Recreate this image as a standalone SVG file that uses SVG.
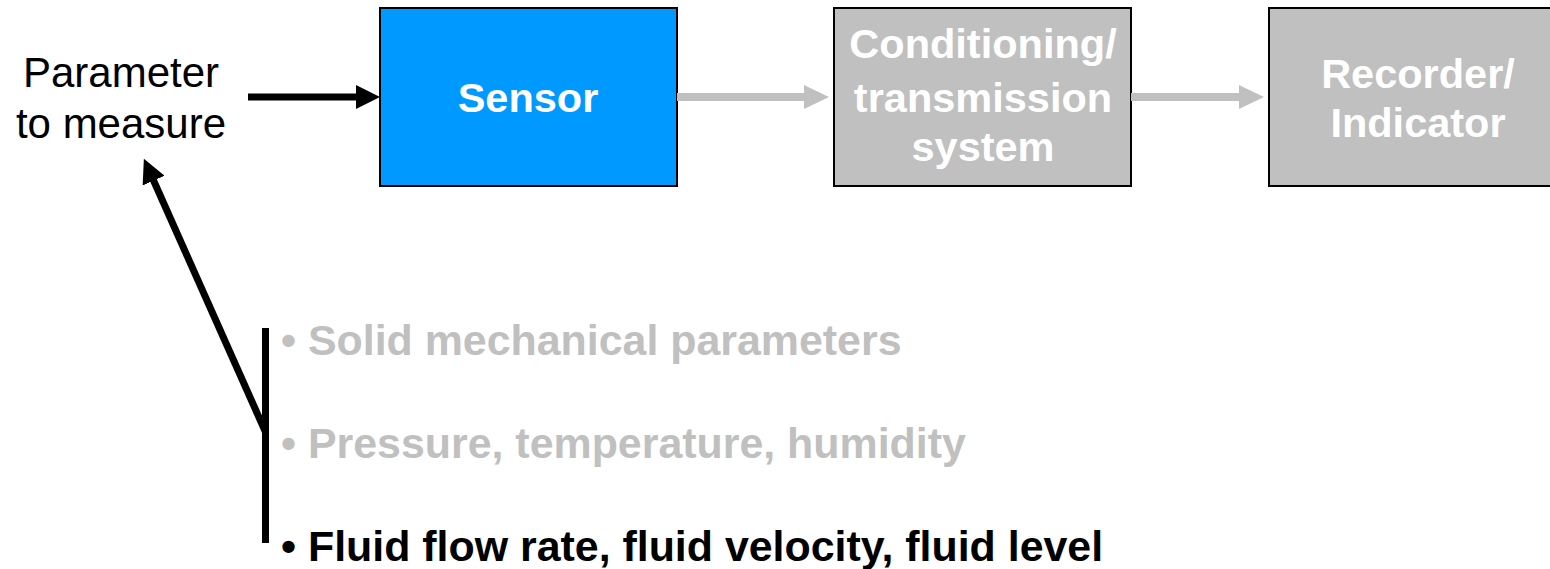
<svg xmlns="http://www.w3.org/2000/svg" width="1550" height="569" viewBox="0 0 1550 569">
  <style>
    .lbl { font-family: "Liberation Sans", Arial, sans-serif; font-size: 42px; }
    .box { stroke: #000; stroke-width: 2; }
    .boxtxt { font-family: "Liberation Sans", Arial, sans-serif; font-size: 41.5px; font-weight: bold; fill: #fff; text-anchor: middle; }
    .item { font-family: "Liberation Sans", Arial, sans-serif; font-size: 42.9px; font-weight: bold; }
    .dim { fill: #c0c0c0; }
    .dark { fill: #000; }
  </style>
  <defs>
    <marker id="headBlack" markerUnits="userSpaceOnUse" markerWidth="24" markerHeight="24" refX="4" refY="12" orient="auto">
      <path d="M0,0 L24,12 L0,24 z" fill="#000"/>
    </marker>
    <marker id="headGray" markerUnits="userSpaceOnUse" markerWidth="26" markerHeight="26" refX="5" refY="13" orient="auto">
      <path d="M0,1 L25,13 L0,25 z" fill="#c0c0c0"/>
    </marker>
  </defs>

  <rect width="1550" height="569" fill="#fff"/>

  <!-- Input label -->
  <g id="node-parameter">
    <text class="lbl" x="121" y="87" text-anchor="middle">Parameter</text>
    <text class="lbl" x="121" y="138" text-anchor="middle">to measure</text>
  </g>

  <!-- Processing chain -->
  <g id="node-sensor">
    <rect class="box" x="380" y="8" width="297" height="178" fill="#0099ff"/>
    <text class="boxtxt" x="528" y="112">Sensor</text>
  </g>
  <g id="node-conditioning">
    <rect class="box" x="834" y="8" width="297" height="178" fill="#c0c0c0"/>
    <text class="boxtxt" x="983" y="58">Conditioning/</text>
    <text class="boxtxt" x="983" y="112">transmission</text>
    <text class="boxtxt" x="983" y="161">system</text>
  </g>
  <g id="node-recorder">
    <rect class="box" x="1269" y="8" width="297" height="178" fill="#c0c0c0"/>
    <text class="boxtxt" x="1418" y="88">Recorder/</text>
    <text class="boxtxt" x="1418" y="137">Indicator</text>
  </g>

  <!-- Parameter categories -->
  <g id="node-categories">
    <text class="item dim" x="281" y="355">• Solid mechanical parameters</text>
    <text class="item dim" x="281" y="458">• Pressure, temperature, humidity</text>
    <text class="item dark" x="281" y="561">• Fluid flow rate, fluid velocity, fluid level</text>
  </g>

  <!-- Connectors -->
  <g id="connectors" fill="none">
    <line x1="248" y1="97" x2="360" y2="97" stroke="#000" stroke-width="7" marker-end="url(#headBlack)"/>
    <line x1="677" y1="97" x2="809" y2="97" stroke="#c0c0c0" stroke-width="8" marker-end="url(#headGray)"/>
    <line x1="1131" y1="97" x2="1244" y2="97" stroke="#c0c0c0" stroke-width="8" marker-end="url(#headGray)"/>
    <line x1="265.5" y1="328" x2="265.5" y2="543" stroke="#000" stroke-width="7"/>
    <line x1="265.5" y1="432" x2="152" y2="177" stroke="#000" stroke-width="7" marker-end="url(#headBlack)"/>
  </g>
</svg>
